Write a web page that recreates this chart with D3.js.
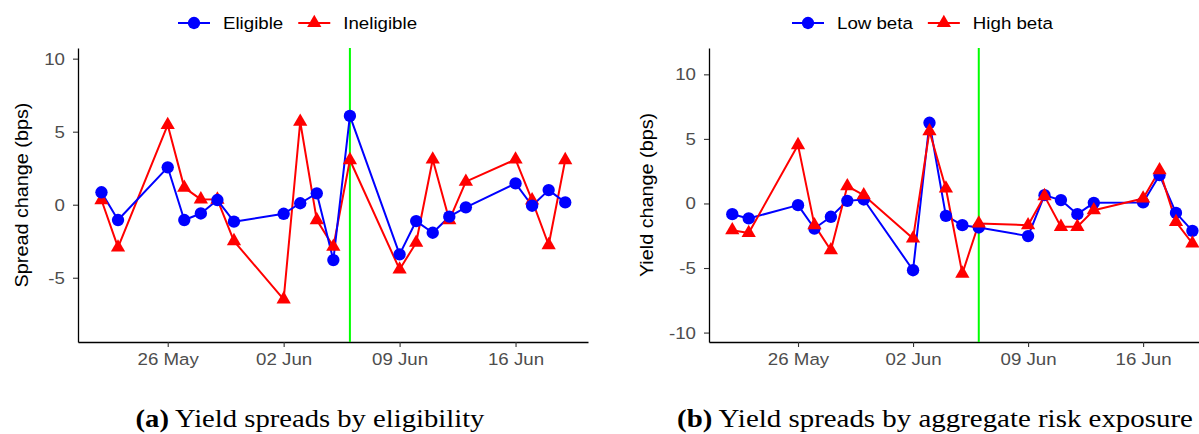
<!DOCTYPE html>
<html>
<head>
<meta charset="utf-8">
<script src="https://cdn.jsdelivr.net/npm/d3@7"></script>
<style>
  body { margin: 0; background: #fff; }
  .tick text { font-family: 'Liberation Sans', Arial, sans-serif; font-size: 17px; fill: #4d4d4d; }
  .tick line { stroke: #333; stroke-width: 1.1; }
  .domain { stroke: #000; stroke-width: 1.3; }
  .ytitle, .legend text { font-family: 'Liberation Sans', Arial, sans-serif; fill: #000; }
  .caption { font-family: 'Liberation Serif', 'DejaVu Serif', serif; font-size: 25px; fill: #000; }
</style>
</head>
<body>
<svg id="chart" width="1199" height="434"></svg>
<script>
// trading days shown on both panels
const dates = ['2014-05-22', '2014-05-23', '2014-05-26', '2014-05-27', '2014-05-28', '2014-05-29',
  '2014-05-30', '2014-06-02', '2014-06-03', '2014-06-04', '2014-06-05', '2014-06-06', '2014-06-09',
  '2014-06-10', '2014-06-11', '2014-06-12', '2014-06-13', '2014-06-16', '2014-06-17', '2014-06-18',
  '2014-06-19']
const eventDate = '2014-06-06'

// panel (a): spread change, bps
const eligible = [0.85, -1.05, 2.56, -1.05, -0.6, 0.32, -1.16, -0.62, 0.1, 0.78, -3.79, 6.08,
  -3.4, -1.12, -1.92, -0.82, -0.18, 1.46, -0.07, 1.0, 0.16]
const ineligible = [0.32, -2.92, 5.46, 1.17, 0.37, 0.35, -2.49, -6.48, 5.68, -1.05, -2.87, 3.06,
  -4.43, -2.6, 3.1, -1.05, 1.58, 3.1, 0.3, -2.76, 3.06]

// panel (b): yield change, bps
const lowBeta = [-0.83, -1.16, -0.13, -1.94, -1.03, 0.2, 0.31, -5.17, 6.25, -0.96, -1.68, -1.86,
  -2.53, 0.64, 0.26, -0.83, 0.05, 0.08, 2.19, -0.73, -2.12]
const highBeta = [-2.07, -2.28, 4.52, -1.68, -3.62, 1.34, 0.64, -2.71, 5.6, 1.16, -5.43, -1.55,
  -1.68, 0.57, -1.81, -1.81, -0.52, 0.39, 2.58, -1.43, -3.1]

const xTicks = ['2014-05-26', '2014-06-02', '2014-06-09', '2014-06-16']
const yTicksA = [-5, 0, 5, 10]
const yTicksB = [-10, -5, 0, 5, 10]

const BLUE = '#0000ff'
const RED = '#ff0000'
const GREEN = '#00ff00'
const STRETCH = 1.1  // the reference text is a little wider than Liberation Sans

let parse = d3.timeParse('%Y-%m-%d')
let svg = d3.select('#chart')
svg.append('rect').attr('width', 1199).attr('height', 434).attr('fill', '#fff')

function drawPanel(opts) {
  let x0 = d3.timeHour.offset(parse(dates[0]), -1.4 * 24)
  let x1 = d3.timeHour.offset(parse(dates[dates.length - 1]), 1.4 * 24)
  let xScale = d3.scaleTime().domain([x0, x1]).range([opts.left, opts.right])
  let yScale = d3.scaleLinear().domain(opts.yDomain).range([opts.bottom, opts.top])

  let g = svg.append('g')

  g.append('g')
    .attr('transform', 'translate(0,' + opts.bottom + ')')
    .call(d3.axisBottom(xScale)
      .tickValues(xTicks.map(parse))
      .tickFormat(d3.timeFormat('%d %b'))
      .tickSize(5).tickPadding(6).tickSizeOuter(0))
    .selectAll('.tick text')
    .attr('transform', 'scale(' + STRETCH + ',1)')

  g.append('g')
    .attr('transform', 'translate(' + opts.left + ',0)')
    .call(d3.axisLeft(yScale)
      .tickValues(opts.yTicks)
      .tickFormat(d3.format('d'))
      .tickSize(5).tickPadding(8).tickSizeOuter(0))
    .selectAll('.tick text')
    .attr('transform', 'scale(' + STRETCH + ',1)')
    .attr('x', -13 / STRETCH)
    .text(d => String(d))  // plain hyphen minus

  g.append('text')
    .attr('class', 'ytitle')
    .attr('transform', 'translate(' + opts.titleX + ',' + ((opts.top + opts.bottom) / 2) + ') rotate(-90) scale(' + STRETCH + ',1)')
    .attr('text-anchor', 'middle')
    .attr('font-size', 18)
    .text(opts.yTitle)

  // event line
  g.append('line')
    .attr('x1', xScale(parse(eventDate))).attr('x2', xScale(parse(eventDate)))
    .attr('y1', opts.top).attr('y2', opts.bottom)
    .attr('stroke', GREEN).attr('stroke-width', 2)

  let line = d3.line()
    .x((d, i) => xScale(parse(dates[i])))
    .y(d => yScale(d))

  // series in drawing order, first one is underneath
  opts.series.forEach(function(s) {
    g.append('path')
      .datum(s.values)
      .attr('d', line)
      .attr('fill', 'none')
      .attr('stroke', s.color)
      .attr('stroke-width', 2)
      .attr('stroke-linejoin', 'round')
  })
  opts.series.forEach(function(s) {
    g.append('g').selectAll('path')
      .data(s.values)
      .enter().append('path')
      .attr('transform', (d, i) => 'translate(' + xScale(parse(dates[i])) + ',' + yScale(d) + ')')
      .attr('d', d3.symbol(s.shape === 'circle' ? d3.symbolCircle : d3.symbolTriangle, s.shape === 'circle' ? 120 : 88))
      .attr('fill', s.color)
  })

  // legend on top, centred over the plot
  let legend = g.append('g').attr('class', 'legend')
  let lx = opts.legendX
  opts.legend.forEach(function(item) {
    let k = legend.append('g').attr('transform', 'translate(' + lx + ',23)')
    k.append('line').attr('x1', 0).attr('x2', 32).attr('stroke', item.color).attr('stroke-width', 2)
    k.append('path')
      .attr('transform', 'translate(16,0)')
      .attr('d', d3.symbol(item.shape === 'circle' ? d3.symbolCircle : d3.symbolTriangle, item.shape === 'circle' ? 120 : 88))
      .attr('fill', item.color)
    let t = k.append('text')
      .attr('transform', 'translate(45,0) scale(' + STRETCH + ',1)')
      .attr('dy', '0.36em')
      .attr('font-size', 17)
      .text(item.label)
    lx += 45 + t.node().getComputedTextLength() * STRETCH + 15
  })

  // sub-figure caption, widened to the width it has in the reference
  let cap = g.append('text')
    .attr('class', 'caption')
    .attr('text-anchor', 'middle')
  cap.append('tspan').attr('font-weight', 'bold').text(opts.captionTag)
  cap.append('tspan').text(' ' + opts.caption)
  let k = opts.captionWidth / cap.node().getComputedTextLength()
  cap.attr('transform', 'translate(' + opts.captionX + ',427) scale(' + k + ',1)')
}

drawPanel({
  left: 78, right: 588, top: 48, bottom: 342,
  yDomain: [-9.4, 10.73], yTicks: yTicksA,
  yTitle: 'Spread change (bps)', titleX: 28,
  series: [
    { values: ineligible, color: RED, shape: 'triangle' },
    { values: eligible, color: BLUE, shape: 'circle' }
  ],
  legendX: 178,
  legend: [
    { label: 'Eligible', color: BLUE, shape: 'circle' },
    { label: 'Ineligible', color: RED, shape: 'triangle' }
  ],
  captionX: 310, captionWidth: 349, captionTag: '(a)', caption: 'Yield spreads by eligibility'
})

drawPanel({
  left: 709, right: 1215, top: 48, bottom: 342,
  yDomain: [-10.73, 12.04], yTicks: yTicksB,
  yTitle: 'Yield change (bps)', titleX: 653,
  series: [
    { values: lowBeta, color: BLUE, shape: 'circle' },
    { values: highBeta, color: RED, shape: 'triangle' }
  ],
  legendX: 792,
  legend: [
    { label: 'Low beta', color: BLUE, shape: 'circle' },
    { label: 'High beta', color: RED, shape: 'triangle' }
  ],
  captionX: 935, captionWidth: 516, captionTag: '(b)', caption: 'Yield spreads by aggregate risk exposure'
})
</script>
</body>
</html>
